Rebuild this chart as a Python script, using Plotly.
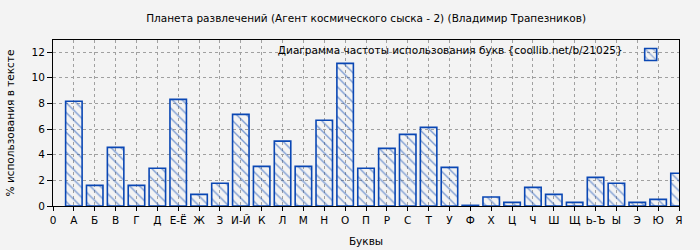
import plotly.graph_objects as go

title = "Планета развлечений (Агент космического сыска - 2) (Владимир Трапезников)"
legend_text = "Диаграмма частоты использования букв {coollib.net/b/21025}"
x_title = "Буквы"
y_title = "% использования в тексте"

tick_labels = ["0", "А", "Б", "В", "Г", "Д", "Е-Ё", "Ж", "З", "И-Й", "К", "Л", "М", "Н",
               "О", "П", "Р", "С", "Т", "У", "Ф", "Х", "Ц", "Ч", "Ш", "Щ", "Ь-Ъ", "Ы",
               "Э", "Ю", "Я"]
letters = tick_labels[1:]
values = [8.16, 1.61, 4.57, 1.61, 2.94, 8.31, 0.91, 1.77, 7.14, 3.09, 5.06, 3.09, 6.68,
          11.12, 2.94, 4.49, 5.58, 6.13, 3.01, 0.05, 0.70, 0.28, 1.45, 0.91, 0.28,
          2.23, 1.77, 0.28, 0.52, 2.55]
y_ticks = [0, 2, 4, 6, 8, 10, 12]

blue = "#0a47b4"
bg = "#f3f3f3"
font = "DejaVu Sans"
fs = 10.5

fig = go.Figure()
fig.add_trace(go.Bar(
    x=letters, y=values, name="", width=0.79,
    marker=dict(color="rgba(0,0,0,0)", line=dict(color=blue, width=1.6),
                pattern=dict(shape="\\", fgcolor=blue, bgcolor="rgba(0,0,0,0)",
                             size=7, solidity=0.2)),
    showlegend=True,
))

fig.update_layout(
    width=700, height=250,
    paper_bgcolor=bg, plot_bgcolor=bg,
    margin=dict(l=53, r=21, t=40, b=44, autoexpand=False),
    font=dict(family=font, size=fs, color="#000"),
    title=dict(text=title, x=0.523, xanchor="center", y=0.925, yanchor="middle",
               font=dict(size=fs)),
    legend=dict(x=0.995, xanchor="right", y=1.0, yanchor="top",
                bgcolor="rgba(0,0,0,0)",
                title=dict(text=legend_text, side="left", font=dict(size=fs)),
                font=dict(size=fs), itemwidth=30, tracegroupgap=0),
    showlegend=True,
    bargap=0.21,
)
fig.update_xaxes(
    type="category", categoryorder="array", categoryarray=tick_labels,
    tickvals=tick_labels, ticktext=tick_labels, tickfont=dict(size=fs),
    range=[0, 30], showline=True, mirror=True, linecolor="#000", linewidth=1,
    ticks="outside", ticklen=4, tickcolor="#000",
    showgrid=True, gridcolor="#a0a0a0", griddash="dot", gridwidth=1,
    title=dict(text=x_title, standoff=13, font=dict(size=fs)), zeroline=False,
    automargin=False,
)
fig.update_yaxes(
    range=[0, 12.94], tickvals=y_ticks, tickfont=dict(size=fs), showline=True, mirror=True,
    linecolor="#000", linewidth=1, ticks="outside", ticklen=5, tickcolor="#000",
    showgrid=True, gridcolor="#a0a0a0", griddash="dot", gridwidth=1,
    title=dict(text=y_title, standoff=14, font=dict(size=fs)), zeroline=False,
    automargin=False,
)

fig.write_html("out.html")
